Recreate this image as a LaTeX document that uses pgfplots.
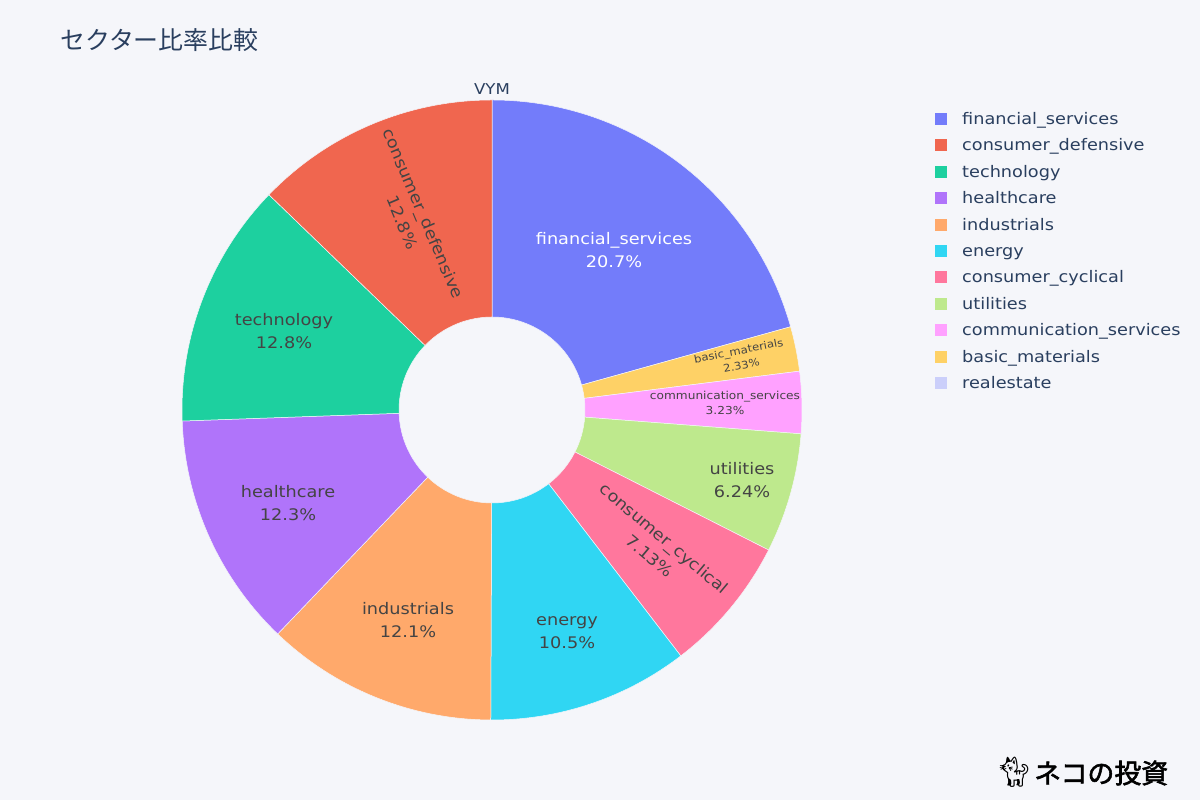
\documentclass[border=0pt]{standalone}
\usepackage{fontspec}
\setmainfont{DejaVu Sans}[FakeStretch=1.11]
\newfontfamily\cjk{Noto Sans CJK JP}
\newfontfamily\cjkbold{Noto Sans CJK JP}[FakeBold=2]
\newfontfamily\emoji{Noto Emoji}
\usepackage{pgfplots}
\usepackage{pgfplotstable}
\pgfplotsset{compat=1.18}

\definecolor{bgc}{HTML}{F5F6FA}
\definecolor{titlec}{HTML}{2A3F5F}
\definecolor{labc}{HTML}{444444}
\definecolor{cFin}{HTML}{737CFA}
\definecolor{cDef}{HTML}{F0664F}
\definecolor{cTec}{HTML}{1DD09F}
\definecolor{cHea}{HTML}{B074FA}
\definecolor{cInd}{HTML}{FFA96B}
\definecolor{cEne}{HTML}{30D6F3}
\definecolor{cCyc}{HTML}{FF779D}
\definecolor{cUti}{HTML}{BEE98D}
\definecolor{cCom}{HTML}{FFA1FF}
\definecolor{cBas}{HTML}{FED166}
\definecolor{cRea}{HTML}{CBCFFA}

% VYM sector weights (%), clockwise from 12 o'clock
\pgfplotstableread[col sep=comma]{
sector,value,color
financial,20.7,cFin
basic,2.33,cBas
communication,3.23,cCom
utilities,6.24,cUti
cyclical,7.13,cCyc
energy,10.5,cEne
industrials,12.1,cInd
healthcare,12.3,cHea
technology,12.8,cTec
defensive,12.8,cDef
}\sectors

\def\cx{492}\def\cy{390}\def\rout{310}\def\rin{93}

\begin{document}
\begin{tikzpicture}
\begin{axis}[
    width=1200bp, height=800bp, scale only axis,
    xmin=0, xmax=1200, ymin=0, ymax=800,
    hide axis, clip=false,
]
\fill[bgc] (axis cs:0,0) rectangle (axis cs:1200,800);

% total of the weights
\pgfplotstablegetrowsof{\sectors}
\pgfmathtruncatemacro\nlast{\pgfplotsretval-1}
\def\total{0}
\pgfplotsforeachungrouped \i in {0,...,\nlast}{%
  \pgfplotstablegetelem{\i}{value}\of\sectors
  \pgfmathsetmacro\total{\total+\pgfplotsretval}%
}

% wedges
\def\acc{90}
\pgfplotsforeachungrouped \i in {0,...,\nlast}{%
  \pgfplotstablegetelem{\i}{value}\of\sectors \let\val\pgfplotsretval
  \pgfplotstablegetelem{\i}{color}\of\sectors \let\col\pgfplotsretval
  \pgfmathsetmacro\aend{\acc-360*\val/\total}%
  \pgfmathsetmacro\xo{\cx+\rout*cos(\acc)}%
  \pgfmathsetmacro\yo{\cy+\rout*sin(\acc)}%
  \pgfmathsetmacro\xi{\cx+\rin*cos(\aend)}%
  \pgfmathsetmacro\yi{\cy+\rin*sin(\aend)}%
  \edef\wedge{\noexpand\fill[\col, draw=bgc, line width=0.5bp]
    (axis cs:\xo,\yo) arc[start angle=\acc, end angle=\aend, radius=\rout bp]
    -- (axis cs:\xi,\yi) arc[start angle=\aend, end angle=\acc, radius=\rin bp] -- cycle;}%
  \wedge
  \let\acc\aend
}

% slice labels
\begin{scope}[every node/.style={align=center, inner sep=0pt, text=labc,
    font=\fontsize{16}{23}\selectfont}]
\node[text=white] at (axis cs:614,550) {financial\_services\\20.7\%};
\node[rotate=-67] at (axis cs:413,582) {consumer\_defensive\\12.8\%};
\node at (axis cs:284,469) {technology\\12.8\%};
\node at (axis cs:288,297) {healthcare\\12.3\%};
\node at (axis cs:408,180) {industrials\\12.1\%};
\node at (axis cs:567,167) {energy\\10.5\%};
\node[rotate=-40] at (axis cs:657,253) {consumer\_cyclical\\7.13\%};
\node at (axis cs:742,320) {utilities\\6.24\%};
\node[font=\fontsize{11}{15.5}\selectfont] at (axis cs:725,397) {communication\_services\\3.23\%};
\node[rotate=11, font=\fontsize{10.5}{15}\selectfont] at (axis cs:740,442) {basic\_materials\\2.33\%};
\end{scope}

% titles
\node[anchor=west, inner sep=0pt, text=titlec, font=\cjk\fontsize{25}{28}\selectfont] at (axis cs:60,760) {セクター比率比較};
\node[inner sep=0pt, text=titlec, font=\fontsize{15}{18}\selectfont] at (axis cs:492,711) {VYM};

% legend
\foreach \nm/\cc [count=\k from 0] in {financial\_services/cFin, consumer\_defensive/cDef,
    technology/cTec, healthcare/cHea, industrials/cInd, energy/cEne,
    consumer\_cyclical/cCyc, utilities/cUti, communication\_services/cCom,
    basic\_materials/cBas, realestate/cRea}{
  \pgfmathsetmacro\ly{681-26.4*\k}%
  \pgfmathsetmacro\lyb{\ly-6}%
  \pgfmathsetmacro\lyt{\ly+6}%
  \edef\leg{\noexpand\fill[\cc] (axis cs:935,\lyb) rectangle (axis cs:947,\lyt);
    \noexpand\node[anchor=base west, inner sep=0pt, text=titlec,
      font=\noexpand\fontsize{16}{19}\noexpand\selectfont]
      at (axis cs:962,\ly-5.5) {\unexpanded\expandafter{\nm}};}%
  \leg
}

% logo
\node[inner sep=0pt, font=\emoji\fontsize{30}{30}\selectfont] at (axis cs:1014,28) {🐈};
\node[anchor=west, inner sep=0pt, font=\cjkbold\fontsize{27}{30}\selectfont] at (axis cs:1034,27) {ネコの投資};
\end{axis}
\end{tikzpicture}
\end{document}
